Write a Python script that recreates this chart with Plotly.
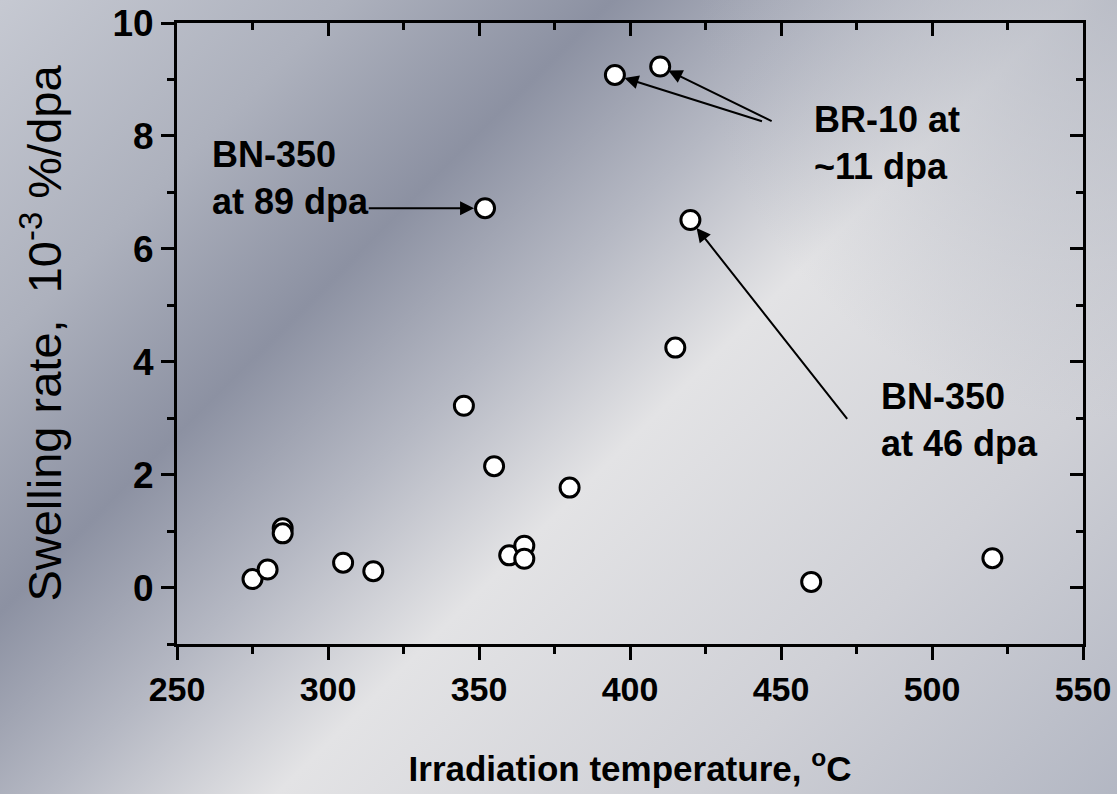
import base64
import plotly.graph_objects as go

# Swelling rate vs irradiation temperature
temperature_c = [275, 280, 285, 285, 305, 315, 345, 352, 355, 360, 365, 365,
                 380, 395, 410, 415, 420, 460, 520]
swelling_rate = [0.15, 0.32, 1.05, 0.96, 0.44, 0.29, 3.22, 6.72, 2.15, 0.57, 0.74, 0.51,
                 1.77, 9.08, 9.23, 4.25, 6.51, 0.10, 0.52]

x_ticks = [250, 300, 350, 400, 450, 500, 550]
y_ticks = [0, 2, 4, 6, 8, 10]

# Labelled points: (temperature, rate) for each arrow target
bn350_89 = (352, 6.72)
br10_a = (395, 9.08)
br10_b = (410, 9.23)
bn350_46 = (420, 6.51)

W, H = 1117, 794
M = dict(l=177, r=34, t=23, b=150)
pw = W - M["l"] - M["r"]
ph = H - M["t"] - M["b"]

# Brushed-metal style diagonal background, with a slightly darker top-right corner
svg = f"""<svg xmlns='http://www.w3.org/2000/svg' width='{W}' height='{H}' viewBox='0 0 {W} {H}' preserveAspectRatio='none'>
<defs>
<linearGradient id='g' gradientUnits='userSpaceOnUse' x1='0' y1='0' x2='956' y2='956'>
<stop offset='0' stop-color='#c6c9d2'/>
<stop offset='0.18' stop-color='#adb1bd'/>
<stop offset='0.32' stop-color='#8c91a2'/>
<stop offset='0.44' stop-color='#b5b8c3'/>
<stop offset='0.56' stop-color='#e3e3e5'/>
<stop offset='0.78' stop-color='#cfd0d6'/>
<stop offset='1' stop-color='#b3b7c3'/>
</linearGradient>
<radialGradient id='c' gradientUnits='userSpaceOnUse' cx='{W}' cy='0' r='420'>
<stop offset='0' stop-color='#aeb2be' stop-opacity='0.75'/>
<stop offset='1' stop-color='#aeb2be' stop-opacity='0'/>
</radialGradient>
</defs>
<rect width='{W}' height='{H}' fill='url(#g)'/>
<rect width='{W}' height='{H}' fill='url(#c)'/></svg>"""
bg_src = "data:image/svg+xml;base64," + base64.b64encode(svg.encode()).decode()

fig = go.Figure()
fig.add_trace(go.Scatter(
    x=temperature_c, y=swelling_rate, mode="markers",
    marker=dict(size=19, color="white", line=dict(color="black", width=3)),
    showlegend=False, hoverinfo="x+y",
))
# empty trace to carry the mirrored top/right axes
fig.add_trace(go.Scatter(x=[None], y=[None], xaxis="x2", yaxis="y2", showlegend=False))

SANS = "Liberation Sans, Arial"
axis_common = dict(showline=True, linewidth=3, linecolor="black", showgrid=False,
                   zeroline=False, tickwidth=2.5, tickcolor="black", ticklen=13)

fig.update_layout(
    width=W, height=H, margin=M,
    paper_bgcolor="#b8bbc6", plot_bgcolor="rgba(0,0,0,0)",
    images=[dict(source=bg_src, xref="paper", yref="paper",
                 x=-M["l"] / pw, y=1 + M["t"] / ph, sizex=W / pw, sizey=H / ph,
                 xanchor="left", yanchor="top", sizing="stretch", layer="below")],
    xaxis=dict(range=[250, 550], tickvals=x_ticks, ticks="outside",
               tickfont=dict(family=SANS, size=34, color="black", weight="bold"),
               minor=dict(dtick=25, ticks="outside", ticklen=7, tickwidth=2.5, tickcolor="black"),
               title=dict(text="Irradiation temperature, <sup>o</sup>C", standoff=50,
                          font=dict(family=SANS, size=35, color="black", weight="bold")),
               automargin=False, **axis_common),
    yaxis=dict(range=[-1, 10], tickvals=y_ticks, ticks="outside",
               tickfont=dict(family=SANS, size=37, color="black", weight="bold"),
               minor=dict(dtick=1, ticks="outside", ticklen=7, tickwidth=2.5, tickcolor="black"),
               title=dict(text="Swelling rate,  10<sup>-3</sup> %/dpa", standoff=36,
                          font=dict(family=SANS, size=47, color="black")),
               automargin=False, **axis_common),
    xaxis2=dict(overlaying="x", side="top", range=[250, 550], tickvals=x_ticks, ticks="inside",
                showticklabels=False,
                minor=dict(dtick=25, ticks="inside", ticklen=7, tickwidth=2.5, tickcolor="black"),
                **axis_common),
    yaxis2=dict(overlaying="y", side="right", range=[-1, 10], tickvals=y_ticks, ticks="inside",
                showticklabels=False,
                minor=dict(dtick=1, ticks="inside", ticklen=7, tickwidth=2.5, tickcolor="black"),
                **axis_common),
)

label_font = dict(family=SANS, size=36, color="black", weight="bold")
for text, x, y in [("BN-350<br>at 89 dpa", 261.0, 7.25),
                   ("BR-10 at<br>~11 dpa", 460.2, 7.87),
                   ("BN-350<br>at 46 dpa", 482.5, 2.97)]:
    fig.add_annotation(x=x, y=y, text=text, showarrow=False, xanchor="left", yanchor="middle",
                       align="left", font=label_font)

arrow_style = dict(showarrow=True, arrowhead=2, arrowsize=1.4, arrowwidth=2,
                   arrowcolor="black", axref="x", ayref="y", text="")
for (px, py), (tx, ty), so in [(bn350_89, (313, 6.72), 11),
                               (br10_a, (444.2, 8.25), 10),
                               (br10_b, (447.4, 8.25), 9),
                               (bn350_46, (472.3, 2.96), 10)]:
    fig.add_annotation(x=px, y=py, ax=tx, ay=ty, standoff=so, **arrow_style)

fig.write_html("out.html")
